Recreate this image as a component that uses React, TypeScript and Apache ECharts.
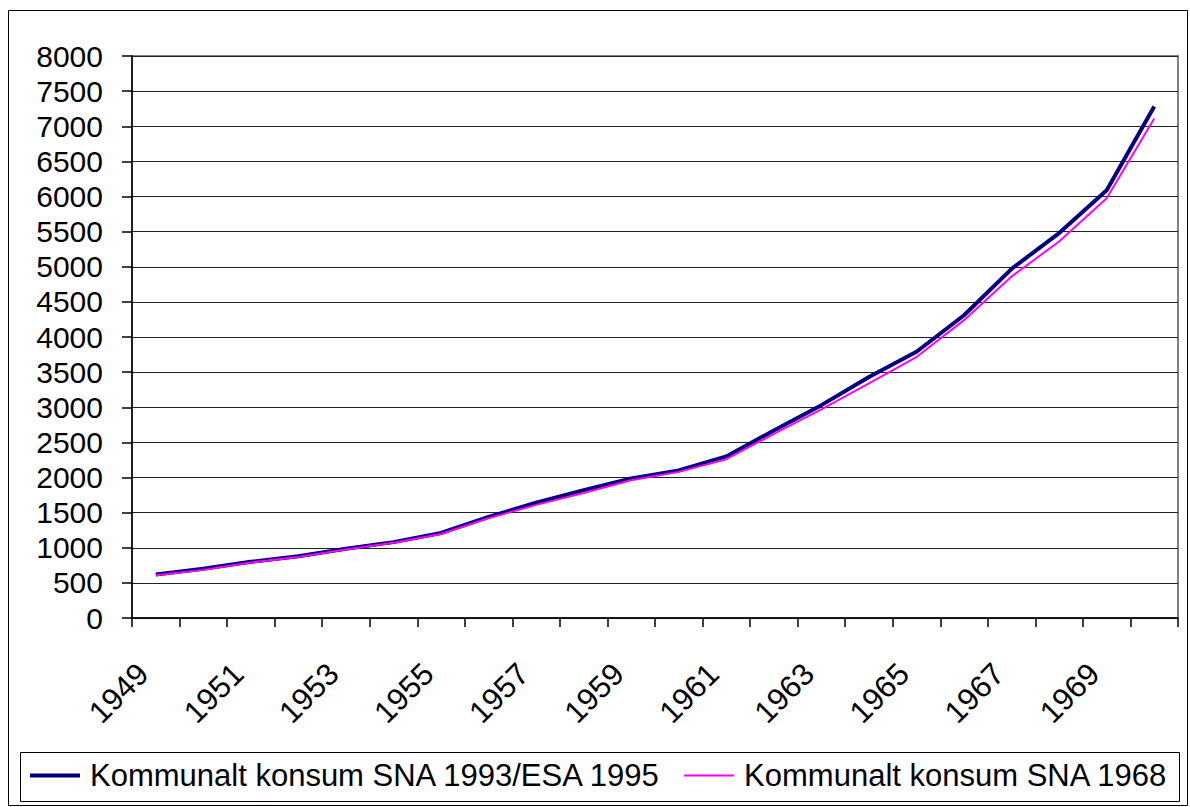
import React, { useEffect, useRef } from "react";
import * as echarts from "echarts";

const years = [
  "1949", "1950", "1951", "1952", "1953", "1954", "1955", "1956", "1957", "1958", "1959",
  "1960", "1961", "1962", "1963", "1964", "1965", "1966", "1967", "1968", "1969", "1970",
];
const sna1993 = [620, 700, 800, 880, 985, 1080, 1210, 1440, 1640, 1820, 1985, 2100, 2300, 2670, 3030, 3430, 3790, 4310, 4970, 5480, 6090, 7280];
const sna1968 = [610, 685, 790, 870, 975, 1070, 1195, 1420, 1610, 1780, 1960, 2080, 2260, 2620, 2970, 3340, 3715, 4240, 4860, 5360, 5975, 7110];
const seriesNames = ["Kommunalt konsum SNA 1993/ESA 1995", "Kommunalt konsum SNA 1968"];

const FONT = 'Arial, "Liberation Sans", sans-serif';

export default function App() {
  const ref = useRef<HTMLDivElement>(null);
  useEffect(() => {
    if (!ref.current) return;
    const chart = echarts.init(ref.current, undefined, { renderer: "svg" });
    chart.setOption({
      animation: false,
      backgroundColor: "#ffffff",
      textStyle: { fontFamily: FONT },
      grid: {
        left: 132,
        top: 56,
        right: 12,
        bottom: 189,
        show: true,
        borderColor: "#808080",
        borderWidth: 2,
      },
      graphic: [
        {
          type: "rect",
          shape: { x: 8.5, y: 10.5, width: 1179, height: 795 },
          style: { fill: "none", stroke: "#000", lineWidth: 1 },
          silent: true,
        },
        {
          type: "rect",
          shape: { x: 20.5, y: 752.5, width: 1159, height: 49 },
          style: { fill: "none", stroke: "#000", lineWidth: 1 },
          silent: true,
        },
      ],
      legend: {
        left: 30,
        top: 760,
        padding: 0,
        itemWidth: 50,
        itemHeight: 14,
        itemGap: 22,
        symbolKeepAspect: true,
        textStyle: { fontSize: 31, color: "#000", fontFamily: FONT, padding: [0, 0, 0, 5] },
        data: [
          { name: seriesNames[0], icon: "path://M0 0H50V4H0Z", itemStyle: { color: "#000080" } },
          { name: seriesNames[1], icon: "path://M0 0H50V2H0Z", itemStyle: { color: "#ff00ff" } },
        ],
      },
      xAxis: {
        type: "category",
        data: years,
        boundaryGap: true,
        axisLine: { lineStyle: { color: "#000", width: 1.5 } },
        axisTick: { show: true, interval: 0, length: 9, lineStyle: { color: "#000", width: 1.5 } },
        axisLabel: {
          interval: 1,
          rotate: 45,
          fontSize: 31,
          color: "#000",
          fontFamily: FONT,
          margin: 38,
          formatter: (v: string) => v + "{s| }",
          rich: { s: { width: 18, fontSize: 31 } },
        },
      },
      yAxis: {
        type: "value",
        min: 0,
        max: 8000,
        interval: 500,
        axisLine: { show: true, lineStyle: { color: "#000", width: 1.5 } },
        axisTick: { show: true, length: 10, lineStyle: { color: "#000", width: 1.5 } },
        axisLabel: {
          fontSize: 30,
          color: "#000",
          fontFamily: FONT,
          margin: 29,
          formatter: (v: number) => String(v),
        },
        splitLine: { show: true, lineStyle: { color: "#222", width: 1 } },
      },
      series: [
        {
          name: seriesNames[0],
          type: "line",
          data: sna1993,
          symbol: "none",
          lineStyle: { color: "#000080", width: 4 },
          itemStyle: { color: "#000080" },
          z: 3,
        },
        {
          name: seriesNames[1],
          type: "line",
          data: sna1968,
          symbol: "none",
          lineStyle: { color: "#ff00ff", width: 2 },
          itemStyle: { color: "#ff00ff" },
          z: 4,
        },
      ],
    });
    return () => chart.dispose();
  }, []);
  return (
    <div
      ref={ref}
      style={{ position: "absolute", left: 0, top: 0, width: 1190, height: 807 }}
    />
  );
}
